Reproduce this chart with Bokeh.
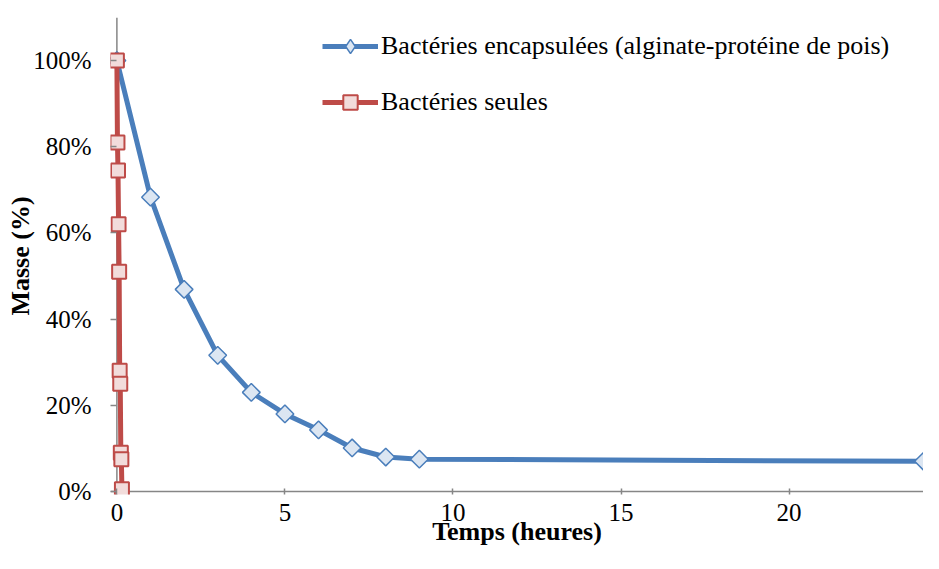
import math
from bokeh.plotting import figure
from bokeh.models import (Range1d, FixedTicker, PrintfTickFormatter, Span,
                          Legend, LegendItem, ColumnDataSource)
from bokeh.embed import file_html
from bokeh.resources import INLINE

# ---- data ----
enc_time = [0, 1, 2, 3, 4, 5, 6, 7, 8, 9, 24]
enc_mass = [100, 68.3, 46.9, 31.6, 23.0, 18.0, 14.3, 10.1, 8.0, 7.5, 7.0]
free_time = [0, 0.017, 0.033, 0.05, 0.067, 0.083, 0.1, 0.117, 0.133, 0.15]
free_mass = [100, 81, 74.5, 62, 51, 28, 25, 9, 7.5, 0.5]
x_ticks = [0, 5, 10, 15, 20]
y_ticks = [0, 20, 40, 60, 80, 100]
series_names = ["Bactéries encapsulées (alginate-protéine de pois)",
                "Bactéries seules"]
x_title = "Temps (heures)"
y_title = "Masse (%)"

FONT = "Liberation Serif"
AXIS_GREY = "#868686"
BLUE = "#4A7EBB"
BLUE_FILL = "#DCE6F2"
RED = "#BE4B48"
RED_FILL = "#F2DCDB"

p = figure(width=923, height=553,
           x_range=Range1d(-0.19, 24), y_range=Range1d(-0.7, 110),
           output_backend="svg", toolbar_location=None,
           min_border_left=110, min_border_right=0,
           min_border_top=17, min_border_bottom=59)
p.outline_line_color = None
p.xgrid.visible = False
p.ygrid.visible = False
p.background_fill_color = "white"
p.border_fill_color = "white"

# axes
for ax in (p.xaxis[0], p.yaxis[0]):
    ax.axis_line_color = None
    ax.major_tick_line_color = AXIS_GREY
    ax.major_tick_line_width = 1.5
    ax.major_tick_in = 6
    ax.major_tick_out = 0
    ax.minor_tick_line_color = None
    ax.major_label_text_font = FONT
    ax.major_label_text_font_size = "25px"
    ax.major_label_text_color = "black"
    ax.axis_label_text_font = FONT
    ax.axis_label_text_font_size = "26px"
    ax.axis_label_text_font_style = "bold"
    ax.axis_label_text_color = "black"

p.xaxis.ticker = FixedTicker(ticks=x_ticks)
p.yaxis.ticker = FixedTicker(ticks=y_ticks)
p.yaxis.formatter = PrintfTickFormatter(format="%d%%")
p.xaxis.axis_label = x_title
p.yaxis.axis_label = y_title
p.xaxis.major_label_standoff = 9
p.xaxis.axis_label_standoff = -7
p.yaxis.major_label_standoff = 19
p.yaxis.axis_label_standoff = -5

# axis lines at data zero
p.add_layout(Span(location=0, dimension="height", line_color=AXIS_GREY,
                  line_width=1.5, level="underlay"))
p.add_layout(Span(location=0, dimension="width", line_color=AXIS_GREY,
                  line_width=1.5, level="underlay"))

enc_src = ColumnDataSource(dict(t=enc_time, m=enc_mass,
                                a=[math.pi / 4] * len(enc_time)))

# encapsulated series
bl = p.line("t", "m", source=enc_src, line_color=BLUE, line_width=5)
bs = p.scatter("t", "m", source=enc_src, marker="square", size=12.5,
               angle="a", fill_color=BLUE_FILL, line_color=BLUE,
               line_width=1.5)
# legend symbol for the encapsulated series (hidden in the plot)
b_key = p.scatter("t", "m", source=enc_src, marker="diamond",
                  fill_color=BLUE_FILL, line_color=BLUE, line_width=1.5,
                  visible=False)
# free bacteria series
rl = p.line(free_time, free_mass, line_color=RED, line_width=5)
rs = p.scatter(free_time, free_mass, marker="square", size=14,
               fill_color=RED_FILL, line_color=RED, line_width=2)

legend = Legend(items=[LegendItem(label=series_names[0], renderers=[bl, b_key]),
                       LegendItem(label=series_names[1], renderers=[rl, rs])],
                location=(212, 374))
legend.label_text_font = FONT
legend.label_text_font_size = "26px"
legend.label_text_color = "black"
legend.glyph_width = 56
legend.glyph_height = 36
legend.label_height = 36
legend.spacing = 20
legend.padding = 0
legend.margin = 0
legend.label_standoff = 3
legend.border_line_color = None
legend.background_fill_alpha = 0
legend.inactive_fill_alpha = 0
p.add_layout(legend)

open("out.html", "w").write(file_html(p, INLINE))
